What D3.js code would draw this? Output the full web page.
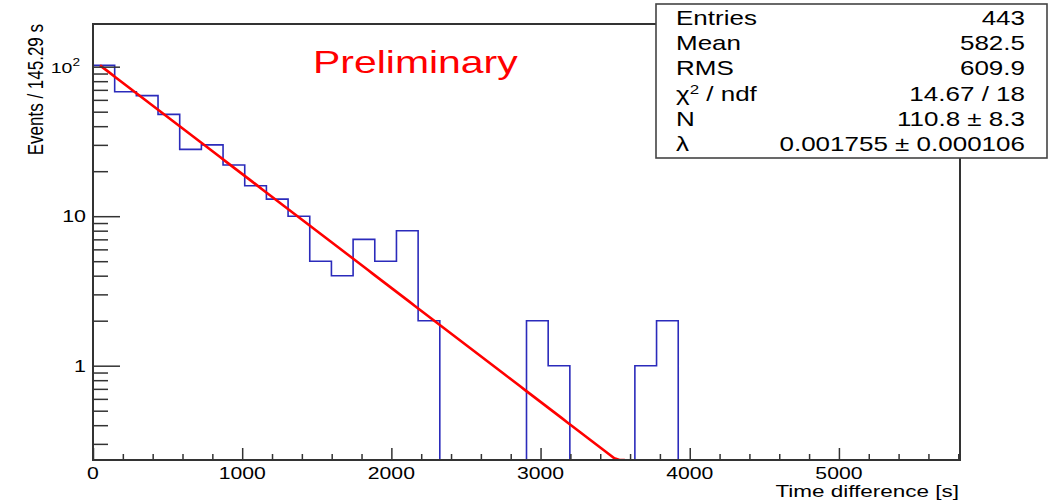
<!DOCTYPE html>
<html lang="en">
<head>
    <meta charset="UTF-8">
    <title>Time difference</title>
    <style>
        body {
            margin: 0;
            padding: 0;
            background-color: #ffffff;
        }
        svg text {
            font-family: "Liberation Sans", Arial, sans-serif;
            fill: #000;
        }
        .axis line { stroke: #333; stroke-width: 1.5; }
        .axis path { display: none; }
    </style>
</head>
<body>
    <svg id="chart" width="1061" height="503"></svg>

    <script src="https://d3js.org/d3.v7.min.js"></script>
    <script>
        // histogram: 40 bins of 145.29 s
        var binWidth = 145.29;
        var binCounts = [102, 68, 64, 48, 28, 30, 22, 16, 13, 10,
                         5, 4, 7, 5, 8, 2, 0, 0, 0, 0,
                         2, 1, 0, 0, 0, 1, 2, 0, 0, 0,
                         0, 0, 0, 0, 0, 0, 0, 0, 0, 0];

        // exponential fit N * exp(-lambda * t)
        var fitN = 110.8;
        var fitLambda = 0.001755;
        var fitRange = [47, 3565];

        var xMajorTicks = [0, 1000, 2000, 3000, 4000, 5000];
        var xMinorTicks = [200, 400, 600, 800, 1200, 1400, 1600, 1800, 2200, 2400, 2600, 2800,
                           3200, 3400, 3600, 3800, 4200, 4400, 4600, 4800, 5200, 5400, 5600, 5800];
        var yMajorTicks = [1, 10, 100];
        var yMinorTicks = [0.3, 0.4, 0.5, 0.6, 0.7, 0.8, 0.9, 2, 3, 4, 5, 6, 7, 8, 9,
                           20, 30, 40, 50, 60, 70, 80, 90];

        var statsLabels = ['Entries', 'Mean', 'RMS', 'chi', 'N', 'λ'];
        var statsValues = ['443', '582.5', '609.9', '14.67 / 18', '110.8 ± 8.3', '0.001755 ± 0.000106'];

        var frame = { left: 93, top: 24, right: 960, bottom: 460 };
        var sx = 1.3; // the picture is stretched sideways

        var svg = d3.select('#chart');

        var xScale = d3.scaleLinear()
            .domain([0, binWidth * binCounts.length])
            .range([frame.left, frame.right]);

        var yScale = d3.scaleLog()
            .domain([0.234, 193])
            .range([frame.bottom, frame.top]);

        svg.append('defs').append('clipPath').attr('id', 'frameClip')
            .append('rect')
            .attr('x', frame.left).attr('y', frame.top)
            .attr('width', frame.right - frame.left)
            .attr('height', frame.bottom - frame.top);

        // y for a count, zero bins go to the bottom of the frame
        function yOf(v) {
            return v > yScale.domain()[0] ? yScale(v) : frame.bottom;
        }

        // histogram outline
        var pts = [[0, 0]];
        binCounts.forEach(function(c, i) {
            pts.push([i * binWidth, c]);
            pts.push([(i + 1) * binWidth, c]);
        });
        pts.push([binCounts.length * binWidth, 0]);

        svg.append('path')
            .attr('clip-path', 'url(#frameClip)')
            .attr('d', d3.line().x(d => xScale(d[0])).y(d => yOf(d[1]))(pts))
            .attr('fill', 'none')
            .attr('stroke', '#2b2bbb')
            .attr('stroke-width', 1.6);

        // fit curve
        var fitPts = d3.range(0, 101).map(function(k) {
            var t = fitRange[0] + (fitRange[1] - fitRange[0]) * k / 100;
            return [t, Math.max(fitN * Math.exp(-fitLambda * t), yScale.domain()[0])];
        });

        svg.append('path')
            .attr('clip-path', 'url(#frameClip)')
            .attr('d', d3.line().x(d => xScale(d[0])).y(d => yScale(d[1]))(fitPts))
            .attr('fill', 'none')
            .attr('stroke', '#ff0000')
            .attr('stroke-width', 2.6);

        // axes: ticks point into the frame
        svg.append('g').attr('class', 'axis')
            .attr('transform', 'translate(0,' + frame.bottom + ')')
            .call(d3.axisBottom(xScale).tickValues(xMajorTicks).tickSize(-12).tickFormat(''));
        svg.append('g').attr('class', 'axis')
            .attr('transform', 'translate(0,' + frame.bottom + ')')
            .call(d3.axisBottom(xScale).tickValues(xMinorTicks).tickSize(-6).tickFormat(''));
        svg.append('g').attr('class', 'axis')
            .attr('transform', 'translate(' + frame.left + ',0)')
            .call(d3.axisLeft(yScale).tickValues(yMajorTicks).tickSize(-27).tickFormat(''));
        svg.append('g').attr('class', 'axis')
            .attr('transform', 'translate(' + frame.left + ',0)')
            .call(d3.axisLeft(yScale).tickValues(yMinorTicks).tickSize(-15).tickFormat(''));

        // frame
        svg.append('rect')
            .attr('x', frame.left).attr('y', frame.top)
            .attr('width', frame.right - frame.left)
            .attr('height', frame.bottom - frame.top)
            .attr('fill', 'none')
            .attr('stroke', '#333')
            .attr('stroke-width', 2);

        // x tick labels
        svg.selectAll('.xlab')
            .data(xMajorTicks)
            .enter()
            .append('text')
            .attr('class', 'xlab')
            .attr('transform', d => 'translate(' + xScale(d) + ',479) scale(' + sx + ',1)')
            .style('text-anchor', 'middle')
            .style('font-size', '16.3px')
            .text(d => d);

        // y tick labels
        yMajorTicks.forEach(function(v) {
            var t = svg.append('text')
                .attr('transform', 'translate(' + (v === 100 ? 80 : 86) + ',' + (yScale(v) + 6) + ') scale(' + sx + ',1)')
                .style('text-anchor', 'end')
                .style('font-size', v === 100 ? '15px' : '16.5px');
            if (v === 100) {
                t.append('tspan').text('10');
                t.append('tspan').attr('dy', -7).style('font-size', '10.5px').text('2');
            } else {
                t.text(v);
            }
        });

        // axis titles
        svg.append('text')
            .attr('transform', 'translate(959,497) scale(' + sx + ',1)')
            .style('text-anchor', 'end')
            .style('font-size', '17.3px')
            .text('Time difference [s]');

        svg.append('text')
            .attr('transform', 'translate(42.5,24) scale(' + sx + ',1) rotate(-90)')
            .style('text-anchor', 'end')
            .style('font-size', '17px')
            .text('Events / 145.29 s');

        // Preliminary label
        svg.append('text')
            .attr('transform', 'translate(313,73) scale(' + sx + ',1)')
            .style('font-size', '31.5px')
            .style('fill', '#ff0000')
            .text('Preliminary');

        // stats box
        var box = { left: 656, top: 4, right: 1047, bottom: 158 };
        svg.append('rect')
            .attr('x', box.left).attr('y', box.top)
            .attr('width', box.right - box.left)
            .attr('height', box.bottom - box.top)
            .attr('fill', '#ffffff')
            .attr('stroke', '#444')
            .attr('stroke-width', 1.6);

        var rowY = d3.scalePoint()
            .domain(statsLabels)
            .range([25, 151]);

        statsLabels.forEach(function(lab, i) {
            var t = svg.append('text')
                .attr('transform', 'translate(676,' + rowY(lab) + ') scale(' + sx + ',1)')
                .style('font-size', '20px');
            if (lab === 'chi') {
                t.append('tspan').text('χ');
                t.append('tspan').attr('dy', -7).style('font-size', '13px').text('2');
                t.append('tspan').attr('dy', 7).text(' / ndf');
            } else {
                t.text(lab);
            }
            svg.append('text')
                .attr('transform', 'translate(1025,' + rowY(lab) + ') scale(' + sx + ',1)')
                .style('text-anchor', 'end')
                .style('font-size', '20px')
                .text(statsValues[i]);
        });
    </script>
</body>
</html>
